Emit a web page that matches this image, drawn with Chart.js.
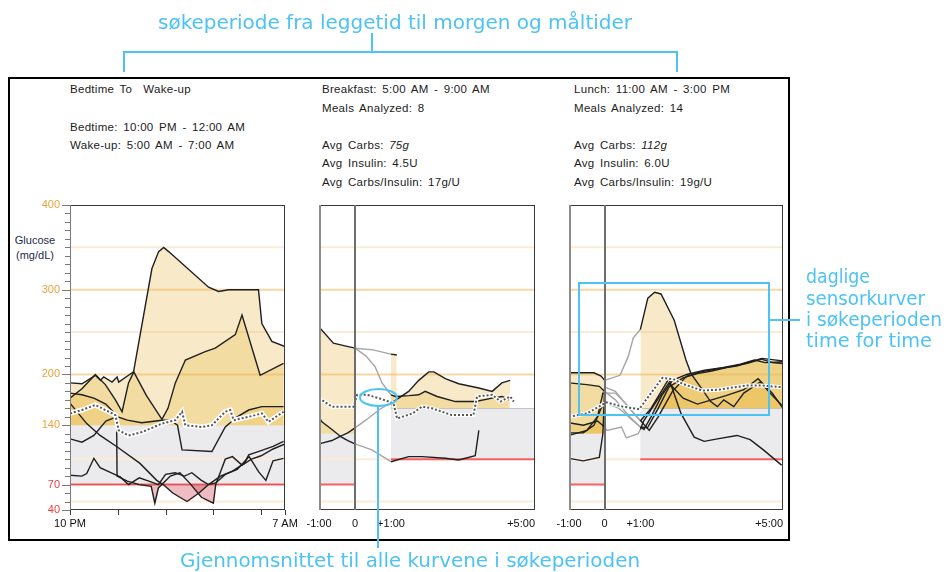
<!DOCTYPE html>
<html lang="no">
<head>
<meta charset="utf-8">
<title>Glukosemønster</title>
<script src="https://cdn.jsdelivr.net/npm/chart.js@4.4.1/dist/chart.umd.min.js"></script>
<style>
  html, body { margin: 0; padding: 0; background: #fff; }
  #page { position: relative; width: 949px; height: 572px; overflow: hidden; font-family: "Liberation Sans", Arial, sans-serif; }
  #frame { position: absolute; left: 8px; top: 77px; width: 782px; height: 464px; border: 2px solid #000; box-sizing: border-box; }
  canvas { position: absolute; }
  .info { position: absolute; font-size: 11.5px; line-height: 14px; letter-spacing: 0.3px; word-spacing: 2px; color: #1c1c1c; white-space: pre; }
  .unit { position: absolute; left: 5px; width: 60px; font-size: 11px; line-height: 15px; color: #1d2b4c; text-align: center; }
  svg { position: absolute; left: 0; top: 0; }
</style>
</head>
<body>
<div id="page">
  <div id="frame"></div>

  <div class="info" style="left:70px;top:82px">Bedtime To  Wake-up</div>
  <div class="info" style="left:70px;top:120px">Bedtime: 10:00 PM - 12:00 AM</div>
  <div class="info" style="left:70px;top:138px">Wake-up: 5:00 AM - 7:00 AM</div>

  <div class="info" style="left:322px;top:82px">Breakfast: 5:00 AM - 9:00 AM</div>
  <div class="info" style="left:322px;top:101px">Meals Analyzed: 8</div>
  <div class="info" style="left:322px;top:138px">Avg Carbs: <i>75g</i></div>
  <div class="info" style="left:322px;top:156px">Avg Insulin: 4.5U</div>
  <div class="info" style="left:322px;top:175px">Avg Carbs/Insulin: 17g/U</div>

  <div class="info" style="left:574px;top:82px">Lunch: 11:00 AM - 3:00 PM</div>
  <div class="info" style="left:574px;top:101px">Meals Analyzed: 14</div>
  <div class="info" style="left:574px;top:138px">Avg Carbs: <i>112g</i></div>
  <div class="info" style="left:574px;top:156px">Avg Insulin: 6.0U</div>
  <div class="info" style="left:574px;top:175px">Avg Carbs/Insulin: 19g/U</div>

  <div class="unit" style="top:233px">Glucose<br>(mg/dL)</div>

  <canvas id="night" width="300" height="340" style="left:0;top:195px"></canvas>
  <canvas id="breakfast" width="250" height="340" style="left:300px;top:195px"></canvas>
  <canvas id="lunch" width="250" height="340" style="left:550px;top:195px"></canvas>

  <svg width="949" height="572" viewBox="0 0 949 572">
    <g fill="none" stroke="#4dc2f5" stroke-width="2">
      <path d="M124 72V52H677V72M372 33V52"/>
      <rect x="579" y="283" width="190" height="132"/>
      <path d="M769 320H800"/>
      <ellipse cx="378.5" cy="397.5" rx="18.5" ry="8.5"/>
      <path d="M378 406V548"/>
    </g>
    <g fill="#4dc2f5" font-family="'DejaVu Sans Condensed','DejaVu Sans',sans-serif" font-size="20">
      <text x="158" y="29" textLength="474" lengthAdjust="spacingAndGlyphs">søkeperiode fra leggetid til morgen og måltider</text>
      <text x="806" y="283" font-size="19" textLength="64" lengthAdjust="spacingAndGlyphs">daglige</text>
      <text x="806" y="305" font-size="19" textLength="119" lengthAdjust="spacingAndGlyphs">sensorkurver</text>
      <text x="806" y="326" font-size="19" textLength="136" lengthAdjust="spacingAndGlyphs">i søkeperioden</text>
      <text x="806" y="347" font-size="19" textLength="126" lengthAdjust="spacingAndGlyphs">time for time</text>
      <text x="180" y="567" textLength="460" lengthAdjust="spacingAndGlyphs">Gjennomsnittet til alle kurvene i søkeperioden</text>
    </g>
  </svg>
</div>

<script>
// glucose axis (mg/dL)
const glucoseLabels = [400, 300, 200, 140, 70, 40];
const gridLevels = [350, 300, 250, 200, 100, 50];
const strongGridLevels = [300, 200];
const nightTickHours = [0, 2, 4, 6, 8, 9];
const nightLabelHours = [0, 9];
const nightLabelText = ["10 PM", "7 AM"];
const mealTickHours = [-1, 0, 1, 5];
const mealTickText = ["-1:00", "0", "+1:00", "+5:00"];
const nightTarget = [70, 140];
const preMealTarget = [70, 130];
const postMealTarget = [100, 160];

// bedtime -> wake-up, [hours after 10 PM, mg/dL]
const night1 = [[0,190],[0.5,189],[1.06,199],[1.27,193],[1.41,197],[1.76,191],[1.97,197],[2.04,191],[2.45,199],[2.66,203],[3.43,325],[3.71,345],[3.92,350],[4.13,345],[5.8,303],[6.22,298],[6.64,300],[7.89,300],[8.03,260],[8.45,239],[9,233]];
const night2 = [[0,172],[0.5,183],[1.06,200],[1.48,188],[1.9,170],[2.18,156],[2.45,190],[2.67,203],[3.2,175],[3.85,147],[4.1,160],[4.41,190],[4.83,217],[5.66,227],[6.08,231],[6.92,247],[7.2,270],[7.96,199],[8.94,213]];
const night3 = [[0,178],[0.5,176],[1.0,172],[1.5,165],[2.0,150],[2.4,146],[3.0,143],[3.85,146],[4.2,146],[4.5,140],[4.69,111],[5.94,109],[6.5,138],[7.0,150],[7.48,158],[8.03,162],[8.94,162]];
const night4 = [[0,166],[0.7,142],[1.26,128],[1.95,115],[2.93,95],[3.63,75],[3.9,70],[4.3,60],[4.9,50],[5.4,60],[5.8,70],[6.3,80],[6.8,86],[7.3,95],[7.48,105],[8.0,110],[8.5,115],[8.94,121]];
const night5 = [[0,124],[0.5,120],[1.0,128],[1.5,145],[1.95,150],[1.97,80],[2.4,74],[2.9,70],[3.4,68],[3.55,48],[3.7,66],[4.2,80],[4.6,84],[5.0,72],[5.5,55],[6.0,48],[6.1,70],[6.5,100],[6.8,103],[7.2,93],[7.6,100],[8.0,104],[8.5,112],[9,118]];
const night6 = [[0,81],[0.5,80],[0.7,83],[1.0,101],[1.26,90],[1.8,83],[2.1,79],[2.45,70],[2.9,78],[3.3,74],[3.7,70],[4.0,82],[4.4,84],[4.8,80],[5.1,84],[5.5,75],[5.8,70],[6.1,72],[6.5,82],[7.0,88],[7.5,103],[7.9,85],[8.2,75],[8.5,98],[8.94,101]];
const nightAverage = [[0,154],[0.5,158],[1.06,164],[1.48,158],[1.9,152],[2.04,134],[2.45,128],[3.02,132],[3.85,142],[4.41,146],[4.69,156],[4.83,140],[5.53,138],[5.94,140],[6.5,156],[6.71,158],[6.85,146],[7.48,150],[8.03,154],[8.31,144],[8.94,156]];

// breakfast, [hours from meal, mg/dL]
const breakfast1 = [[-1,256],[-0.6,237],[-0.31,234],[0,231],[0.5,229],[1,224],[1.16,223]];
const breakfast2 = [[0,231],[0.3,222],[0.56,209],[0.75,190],[1,176],[1.12,174],[1.5,175],[1.77,176],[1.95,180],[2.28,174],[2.79,168],[3.35,168],[3.81,172],[4.09,174],[4.27,170]];
const breakfast3 = [[-1,150],[-0.92,144],[-0.64,135],[-0.41,127],[-0.2,131],[0,137],[0.3,146],[0.66,158],[1,167],[1.07,168],[1.49,180],[1.77,193],[2.05,203],[2.19,203],[2.51,195],[2.88,189],[3.44,184],[3.81,180],[4.08,190],[4.31,193]];
const breakfast4 = [[-1,118],[-0.64,122],[-0.41,127],[-0.2,122],[0,118],[0.47,111],[1,97],[1.49,103],[1.86,103],[2.51,101],[2.88,99],[3.34,104],[3.44,134]];
const breakfastAverage = [[-1,172],[-0.64,162],[-0.04,162],[0.06,176],[0.33,176],[0.66,172],[1.07,166],[1.17,148],[1.6,154],[1.86,162],[2.14,160],[2.69,152],[3.29,152],[3.39,174],[3.81,176],[4.04,168],[4.31,174],[4.41,168]];

// lunch, [hours from meal, mg/dL]
const lunch1 = [[-1,202],[-0.3,202],[-0.1,198],[0,193],[0.43,199],[0.66,221],[0.8,243],[1,253],[1.21,290],[1.4,297],[1.58,295],[1.95,264],[2.28,217],[2.42,201],[2.69,185],[2.97,168],[3.16,162],[3.34,170],[3.62,162],[3.9,178],[4.18,186],[4.36,191],[4.73,174],[4.96,164]];
const lunch2 = [[-1,190],[-0.5,188],[-0.15,186],[0,180],[0.3,170],[0.7,150],[1,138],[1.1,135],[1.3,150],[1.6,175],[1.9,193],[2.3,200],[2.8,205],[3.3,208],[3.8,212],[4.2,217],[4.5,214],[5,215]];
const lunch3 = [[-1,131],[-0.6,131],[-0.3,140],[-0.1,160],[0,167],[0.4,160],[0.8,145],[1,138],[1.2,137],[1.5,160],[1.8,185],[2.2,196],[2.6,201],[3,204],[3.5,209],[4,213],[4.4,218],[4.7,214],[5,213]];
const lunch4 = [[-1,128],[-0.5,134],[-0.2,150],[-0.05,178],[0,178],[0.3,178],[0.6,165],[0.9,150],[1,146],[1.25,134],[1.5,150],[1.9,180],[2.3,198],[2.7,203],[3.2,207],[3.7,210],[4.1,215],[4.4,219],[5,216]];
const lunch5 = [[-1,101],[-0.6,98],[-0.15,102],[-0.05,130],[0,185],[0.3,180],[0.6,165],[1,145],[1.3,160],[1.8,195],[2.14,154],[2.51,126],[2.79,121],[3.16,124],[3.71,128],[4.08,123],[4.45,111],[4.96,93]];
const lunch6 = [[-1,143],[-0.6,140],[-0.2,145],[0,138],[0.06,134],[0.47,138],[0.61,125],[0.94,130],[1,135],[1.08,144],[1.4,165],[1.8,190],[2.2,172],[2.6,165],[3,170],[3.4,175],[3.9,182],[4.3,195],[4.7,178],[5,160]];
const lunchAverage = [[-1,150],[-0.5,154],[-0.08,164],[0.05,167],[0.5,162],[0.97,159],[1.3,178],[1.62,196],[1.95,194],[2.18,189],[2.73,181],[3.2,182],[3.66,185],[4,187],[4.4,187],[4.95,185]];

const colors = {
  ink: "#1f1f1f",
  faded: "#a5a5a5",
  high: "rgba(233, 186, 72, 0.3)",
  low: "rgba(212, 72, 84, 0.36)",
  band: "#ebebed",
  bandEdge: "#c6c6c8",
  red: "#f26262",
  grid: "#fcebd9",
  gridStrong: "#f7d7a6",
  orangeText: "#e9a43c",
  redText: "#f03c3c",
  frame: "#3a3a3a",
  axis: "#7a7a7a",
};
const none = "rgba(0,0,0,0)";
const tickFont = '11px "Liberation Sans", Arial, sans-serif';

const points = (pairs) => pairs.map(([x, y]) => ({ x, y }));

function areaSet(pairs, level, side, color) {
  return {
    data: points(pairs),
    borderWidth: 0,
    borderColor: none,
    pointRadius: 0,
    fill: {
      target: { value: level },
      above: side === "above" ? color : none,
      below: side === "below" ? color : none,
    },
  };
}

function curveSet(pairs, mealWindow) {
  const set = {
    data: points(pairs),
    borderColor: colors.ink,
    borderWidth: 1.4,
    pointRadius: 0,
    fill: false,
  };
  if (mealWindow) {
    // first hour after the meal is drawn faded
    set.segment = {
      borderColor: (c) =>
        c.p0.parsed.x >= 0 && c.p1.parsed.x <= 1 ? colors.faded : colors.ink,
    };
  }
  return set;
}

function averageSets(pairs, width) {
  return [
    { data: points(pairs), borderColor: "#555555", borderWidth: 2, borderDash: [2, 2], pointRadius: 0, fill: false },
    { data: points(pairs), borderColor: "#ffffff", borderWidth: width, pointRadius: 0, fill: false },
  ];
}

const nightCurves = [night1, night2, night3, night4, night5, night6];
const nightSets = [
  ...averageSets(nightAverage, 5),
  ...nightCurves.map((c) => curveSet(c, false)),
  ...nightCurves.map((c) => areaSet(c, nightTarget[1], "above", colors.high)),
  ...nightCurves.map((c) => areaSet(c, nightTarget[0], "below", colors.low)),
];

function mealSets(curves, average) {
  const pre = curves.map((c) => c.filter(([x]) => x <= 0)).filter((c) => c.length > 1);
  const post = curves.map((c) => c.filter(([x]) => x >= 1)).filter((c) => c.length > 1);
  return [
    ...averageSets(average, 4),
    ...curves.map((c) => curveSet(c, true)),
    ...pre.map((c) => areaSet(c, preMealTarget[1], "above", colors.high)),
    ...post.map((c) => areaSet(c, postMealTarget[1], "above", colors.high)),
  ];
}

const panelSpecs = {
  night: {
    kind: "night",
    bands: [[0, 9, nightTarget]],
    bandEdges: [],
    redLines: [[0, 9, nightTarget[0]]],
  },
  breakfast: {
    kind: "meal",
    bands: [[-1, 0, preMealTarget], [1, 5, postMealTarget]],
    bandEdges: [[1, 5, postMealTarget[1]]],
    redLines: [[-1, 0, preMealTarget[0]], [1, 5, postMealTarget[0]]],
  },
};
panelSpecs.lunch = panelSpecs.breakfast;

function hline(ctx, x0, x1, y) {
  ctx.beginPath();
  ctx.moveTo(x0, y);
  ctx.lineTo(x1, y);
  ctx.stroke();
}
function vline(ctx, x, y0, y1) {
  ctx.beginPath();
  ctx.moveTo(x, y0);
  ctx.lineTo(x, y1);
  ctx.stroke();
}

const panelDecor = {
  id: "panelDecor",
  beforeDraw(chart) {
    const spec = panelSpecs[chart.canvas.id];
    const { ctx, chartArea: area } = chart;
    const sx = chart.scales.x;
    const sy = chart.scales.y;
    ctx.save();
    spec.bands.forEach(([from, to, [low, high]]) => {
      const x0 = sx.getPixelForValue(from);
      const x1 = sx.getPixelForValue(to);
      const y0 = sy.getPixelForValue(high);
      const y1 = sy.getPixelForValue(low);
      ctx.fillStyle = colors.band;
      ctx.fillRect(x0, y0, x1 - x0, y1 - y0);
    });
    gridLevels.forEach((level) => {
      ctx.strokeStyle = strongGridLevels.includes(level) ? colors.gridStrong : colors.grid;
      ctx.lineWidth = 2;
      hline(ctx, area.left, area.right, sy.getPixelForValue(level));
    });
    spec.bandEdges.forEach(([from, to, level]) => {
      ctx.strokeStyle = colors.bandEdge;
      ctx.lineWidth = 1;
      hline(ctx, sx.getPixelForValue(from), sx.getPixelForValue(to), Math.round(sy.getPixelForValue(level)) + 0.5);
    });
    spec.redLines.forEach(([from, to, level]) => {
      ctx.strokeStyle = colors.red;
      ctx.lineWidth = 2;
      hline(ctx, sx.getPixelForValue(from), sx.getPixelForValue(to), sy.getPixelForValue(level));
    });
    ctx.restore();
  },
  afterDraw(chart) {
    const spec = panelSpecs[chart.canvas.id];
    const { ctx, chartArea: area } = chart;
    const sx = chart.scales.x;
    const sy = chart.scales.y;
    const labelY = area.bottom + 14;
    ctx.save();
    ctx.font = tickFont;
    ctx.textBaseline = "middle";

    if (spec.kind === "night") {
      ctx.strokeStyle = colors.frame;
      ctx.lineWidth = 1;
      hline(ctx, area.left, area.right, area.top + 0.5);
      vline(ctx, area.right - 0.5, area.top, area.bottom);
      hline(ctx, area.left, area.right, area.bottom - 0.5);

      ctx.strokeStyle = colors.axis;
      vline(ctx, area.left + 0.5, area.top, area.bottom);
      for (let v = 40; v <= 400; v += 10) {
        const y = Math.round(sy.getPixelForValue(v)) + 0.5;
        const len = glucoseLabels.includes(v) ? 8 : 5;
        hline(ctx, area.left - len, area.left, y);
      }
      ctx.strokeStyle = colors.frame;
      nightTickHours.forEach((h) => {
        const x = Math.round(sx.getPixelForValue(h)) + 0.5;
        vline(ctx, x, area.bottom, area.bottom + 5);
      });

      ctx.textAlign = "right";
      glucoseLabels.forEach((v) => {
        ctx.fillStyle = v >= 140 ? colors.orangeText : colors.redText;
        ctx.fillText(String(v), area.left - 10, sy.getPixelForValue(v));
      });
      ctx.textAlign = "center";
      ctx.fillStyle = "#111";
      nightLabelHours.forEach((h, i) => {
        ctx.fillText(nightLabelText[i], sx.getPixelForValue(h), labelY);
      });
    } else {
      ctx.strokeStyle = colors.frame;
      ctx.lineWidth = 1;
      ctx.strokeRect(area.left + 0.5, area.top + 0.5, area.right - area.left - 1, area.bottom - area.top - 1);
      ctx.strokeStyle = "#8c8c8c";
      ctx.lineWidth = 2;
      vline(ctx, area.left + 1, area.top, area.bottom);
      ctx.strokeStyle = "#6e6e6e";
      vline(ctx, Math.round(sx.getPixelForValue(0)), area.top, area.bottom);

      ctx.fillStyle = "#111";
      mealTickHours.forEach((h, i) => {
        const last = i === mealTickHours.length - 1;
        ctx.textAlign = last ? "right" : "center";
        ctx.fillText(mealTickText[i], sx.getPixelForValue(h), labelY);
      });
    }
    ctx.restore();
  },
};

function buildPanel(id, datasets, xMin, xMax, padding) {
  return new Chart(document.getElementById(id), {
    type: "line",
    data: { datasets },
    options: {
      responsive: false,
      animation: false,
      events: [],
      layout: { padding },
      scales: {
        x: { type: "linear", min: xMin, max: xMax, display: false },
        y: { type: "linear", min: 40, max: 400, display: false },
      },
      plugins: {
        legend: { display: false },
        tooltip: { enabled: false },
        filler: { drawTime: "beforeDatasetsDraw", propagate: false },
      },
    },
    plugins: [panelDecor],
  });
}

buildPanel("night", nightSets, 0, 9, { left: 70, right: 15, top: 10, bottom: 25 });
buildPanel("breakfast", mealSets([breakfast1, breakfast2, breakfast3, breakfast4], breakfastAverage), -1, 5, { left: 19, right: 15, top: 10, bottom: 25 });
buildPanel("lunch", mealSets([lunch1, lunch2, lunch3, lunch4, lunch5, lunch6], lunchAverage), -1, 5, { left: 19, right: 17, top: 10, bottom: 25 });
</script>
</body>
</html>
